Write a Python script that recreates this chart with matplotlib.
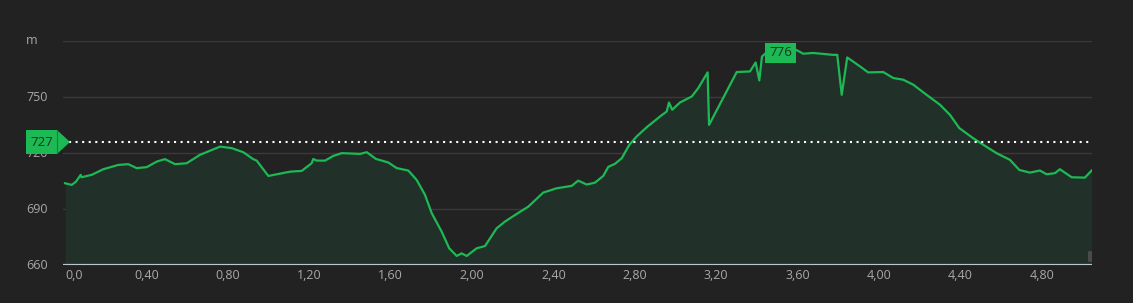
import matplotlib
matplotlib.use("Agg")
import matplotlib.pyplot as plt
from matplotlib.patches import Rectangle, Polygon, FancyBboxPatch
import matplotlib.transforms as mtransforms

plt.rcParams['font.family'] = ['Open Sans', 'DejaVu Sans']

# distance in km, elevation in m
distance_km = [0.0, 0.033, 0.054, 0.077, 0.081, 0.131, 0.188, 0.262, 0.311, 0.352,
               0.401, 0.451, 0.491, 0.541, 0.598, 0.663, 0.762, 0.819, 0.876, 0.925,
               0.942, 0.999, 1.106, 1.163, 1.212, 1.220, 1.237, 1.278, 1.318, 1.360,
               1.450, 1.483, 1.528, 1.589, 1.630, 1.687, 1.728, 1.769, 1.802, 1.851,
               1.888, 1.925, 1.949, 1.974, 2.023, 2.064, 2.121, 2.162, 2.220, 2.277,
               2.350, 2.416, 2.490, 2.522, 2.564, 2.604, 2.645, 2.670, 2.703, 2.736,
               2.773, 2.809, 2.859, 2.924, 2.957, 2.968, 2.984, 3.022, 3.080, 3.112,
               3.158, 3.165, 3.301, 3.366, 3.394, 3.412, 3.425, 3.448, 3.513, 3.592,
               3.628, 3.677, 3.772, 3.795, 3.817, 3.844, 3.907, 3.947, 4.021, 4.070,
               4.119, 4.169, 4.234, 4.300, 4.349, 4.395, 4.463, 4.521, 4.578, 4.644,
               4.690, 4.742, 4.791, 4.824, 4.865, 4.889, 4.947, 5.012, 5.045]
elevation_m = [703.9, 703.0, 704.8, 708.4, 707.1, 708.4, 711.4, 713.7, 714.1, 712.0,
               712.5, 715.5, 716.8, 714.1, 714.6, 719.1, 723.5, 722.7, 720.5, 716.8,
               716.0, 707.8, 710.1, 710.5, 714.6, 716.9, 716.0, 716.0, 718.5, 720.0,
               719.6, 720.5, 716.9, 715.0, 712.0, 710.7, 705.7, 697.7, 687.9, 678.0,
               669.1, 665.0, 666.4, 665.0, 669.1, 670.3, 679.8, 683.4, 687.5, 691.4,
               698.9, 701.2, 702.5, 705.3, 703.2, 704.2, 707.8, 712.7, 714.3, 717.3,
               724.4, 728.9, 733.9, 739.6, 742.3, 747.1, 743.2, 747.1, 750.3, 754.8,
               763.2, 735.1, 763.4, 763.7, 768.5, 758.9, 771.7, 773.9, 776.0, 775.3,
               773.2, 773.6, 772.6, 772.6, 751.2, 771.2, 766.4, 763.2, 763.4, 760.2,
               759.3, 756.6, 751.2, 745.9, 740.5, 733.4, 728.0, 723.9, 720.0, 716.4,
               711.0, 709.6, 710.7, 708.7, 709.3, 711.4, 707.1, 706.9, 710.7]

x_ticks = [0.0, 0.4, 0.8, 1.2, 1.6, 2.0, 2.4, 2.8, 3.2, 3.6, 4.0, 4.4, 4.8]
x_tick_labels = ["0,0", "0,40", "0,80", "1,20", "1,60", "2,00", "2,40", "2,80",
                 "3,20", "3,60", "4,00", "4,40", "4,80"]
y_ticks = [660, 690, 720, 750, 780]
y_tick_labels = ["660", "690", "720", "750", "m"]

avg_label = "727"
avg_line_value = 726
max_label = "776"
max_pos = (3.516, 773.6)

BG = "#222222"
LINE = "#1db954"
FILL = "#22302a"
GRID = "#3a3a3a"
TXT = "#a9a9a9"

W, H = 1133, 303
fig = plt.figure(figsize=(W / 100, H / 100), dpi=100, facecolor=BG)
ax = fig.add_axes([63 / W, 37.7 / H, 1029 / W, 224.3 / H])
ax.set_facecolor(BG)
ax.set_xlim(-0.01, 5.047)
ax.set_ylim(660, 780)
for s in ax.spines.values():
    s.set_visible(False)
ax.set_xticks([])
ax.set_yticks([])

for yv in y_ticks[1:]:
    ax.axhline(yv, color=GRID, lw=1, zorder=1)
ax.axhline(660, color="#bcc6cf", lw=1.6, zorder=5)

ax.fill_between(distance_km, elevation_m, 660, color=FILL, lw=0, zorder=2)
ax.plot(distance_km, elevation_m, color=LINE, lw=1.6, zorder=4, solid_joinstyle='round')

# y labels (left aligned at x=26 px)
ytr = mtransforms.blended_transform_factory(fig.transFigure, ax.transData)
for yv, lab in zip(y_ticks, y_tick_labels):
    ax.text(26 / W, yv, lab, transform=ytr, ha='left', va='center',
            fontsize=9, color=TXT, zorder=3)

# x labels
xtr = ax.get_xaxis_transform()
for i, (xv, lab) in enumerate(zip(x_ticks, x_tick_labels)):
    ax.text(xv, -0.046, lab, transform=xtr, ha='left' if i == 0 else 'center',
            va='center', fontsize=9, color=TXT)

# average dotted line
ax.plot([0.02, 5.047], [avg_line_value, avg_line_value], color="white", lw=1.5,
        linestyle=(0, (1, 2.15)), zorder=6, dash_capstyle='butt')

# average marker (figure pixel coordinates, y from top)
def fp(x, y):
    return (x / W, (H - y) / H)

box = Rectangle(fp(26, 154), 31 / W, 24 / H, transform=fig.transFigure,
                facecolor=LINE, edgecolor='none', zorder=10)
fig.patches.append(box)
tri = Polygon([fp(57, 130), fp(70, 142), fp(57, 154)], closed=True,
              transform=fig.transFigure, facecolor=LINE, edgecolor='none', zorder=10)
fig.patches.append(tri)
fig.lines.append(plt.Line2D([57 / W, 57 / W], [(H - 131) / H, (H - 153) / H],
                            transform=fig.transFigure, color="#15803b", lw=0.8, zorder=11))
fig.text(41.5 / W, (H - 142) / H, avg_label, ha='center', va='center',
         fontsize=9.5, color="#1b3323", zorder=12)

# max label
ax.text(max_pos[0], max_pos[1], max_label, ha='center', va='center', fontsize=9.5,
        color="#1b3323", zorder=12,
        bbox=dict(boxstyle='square,pad=0.3', facecolor=LINE, edgecolor='none'))

# scroll handle at the bottom right
fig.patches.append(FancyBboxPatch(fp(1088, 262), 4 / W, 11 / H,
                                  boxstyle='round,pad=0,rounding_size=0.002',
                                  transform=fig.transFigure, facecolor="#4a4a4a",
                                  edgecolor='none', zorder=9))

fig.savefig("out.png", dpi=100, facecolor=BG)
